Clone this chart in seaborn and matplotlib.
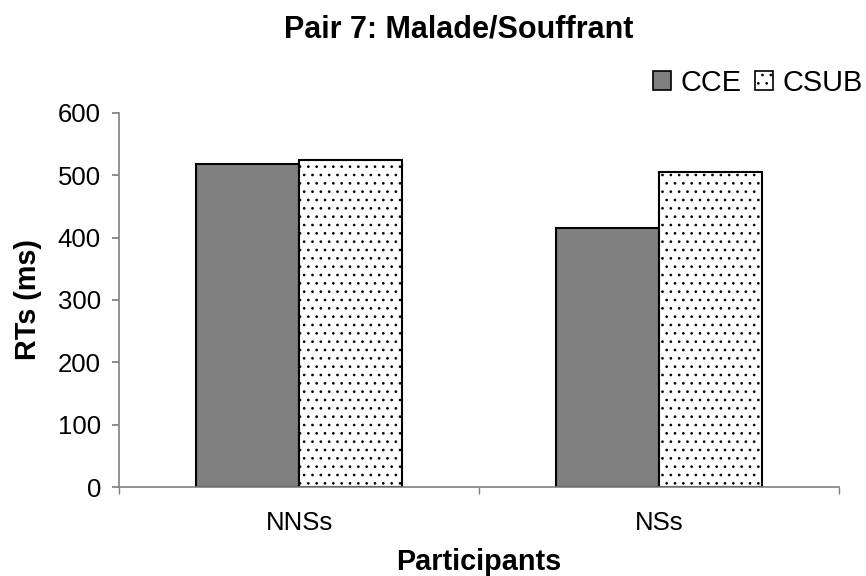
import matplotlib
matplotlib.use("Agg")
import matplotlib.pyplot as plt
import seaborn as sns
import pandas as pd
from matplotlib.patches import Patch

categories = ["NNSs", "NSs"]
conditions = ["CCE", "CSUB"]
cce_values = [518, 415]
csub_values = [525, 506]
yticks = [0, 100, 200, 300, 400, 500, 600]

df = pd.DataFrame({
    "Participants": categories * 2,
    "Condition": ["CCE"] * len(categories) + ["CSUB"] * len(categories),
    "RT": cce_values + csub_values,
})

sns.set_theme(style="white")
plt.rcParams['font.family'] = ['Liberation Sans', 'DejaVu Sans']
plt.rcParams['text.color'] = 'black'
plt.rcParams['axes.labelcolor'] = 'black'
plt.rcParams['xtick.color'] = 'black'
plt.rcParams['ytick.color'] = 'black'
plt.rcParams['hatch.color'] = '#333333'
plt.rcParams['hatch.linewidth'] = 0.7

fig = plt.figure(figsize=(8.66, 5.76), dpi=100)
ax = fig.add_axes([0.1374, 0.1545, 0.8316, 0.6495])

palette = {"CCE": "#808080", "CSUB": "white"}
sns.barplot(data=df, x="Participants", y="RT", hue="Condition", order=categories,
            hue_order=conditions, palette=palette, width=0.572, gap=0,
            edgecolor="black", linewidth=1.5, saturation=1, ax=ax, legend=False)

n = len(categories)
for i, p in enumerate(ax.patches):
    if i >= n:
        p.set_hatch('..')
        p.set_edgecolor('black')

ax.set_ylim(0, 600)
ax.set_yticks(yticks)
ax.set_xlim(-0.5, len(categories) - 0.5)
ax.tick_params(axis='y', labelsize=18.5, length=5, color='#808080', labelcolor='black',
               direction='out', left=True, pad=8)
ax.tick_params(axis='x', which='major', labelsize=18.5, length=0, pad=17, labelcolor='black')
ax.set_xticks([i - 0.5 for i in range(len(categories) + 1)], minor=True)
ax.tick_params(axis='x', which='minor', length=5, color='#808080', direction='out', bottom=True)
for s in ['top', 'right']:
    ax.spines[s].set_visible(False)
for s in ['left', 'bottom']:
    ax.spines[s].set_color('#808080')
    ax.spines[s].set_linewidth(1.2)

ax.set_xlabel("Participants", fontsize=20.8, fontweight='bold', color='black')
ax.set_ylabel("RTs (ms)", fontsize=20.8, fontweight='bold', color='black')
ax.xaxis.set_label_coords(0.5, -0.2005)
ax.xaxis.label.set_va('center')
ax.yaxis.set_label_coords(-0.1268, 0.5)
ax.yaxis.label.set_va('center')
fig.text(0.53, 0.949, "Pair 7: Malade/Souffrant", fontsize=22, fontweight='bold',
         ha='center', va='center', color='black')

handles = [Patch(facecolor="#808080", edgecolor="black", linewidth=1.2),
           Patch(facecolor="white", edgecolor="black", linewidth=1.2, hatch='..')]
fig.legend(handles, conditions, loc='center right', bbox_to_anchor=(1.0, 0.856), ncol=2,
           frameon=False, fontsize=20.8, handlelength=0.62, handleheight=0.62,
           handletextpad=0.35, columnspacing=0.45, borderaxespad=0, borderpad=0.1)

fig.savefig("out.png", dpi=100)
